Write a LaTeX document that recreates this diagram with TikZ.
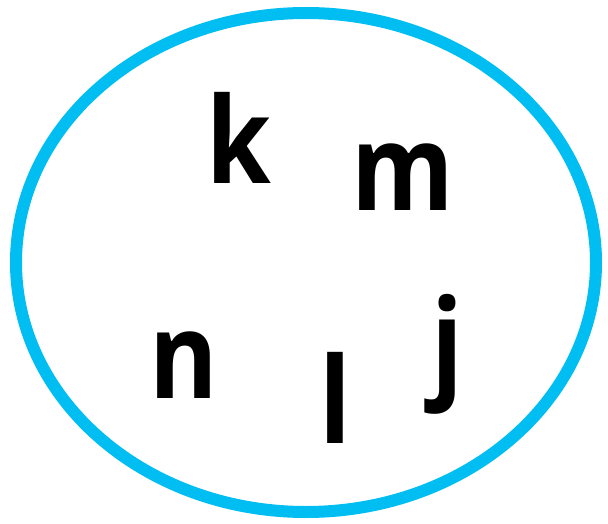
\documentclass[tikz,border=0pt]{standalone}
\usepackage{fontspec}
\newfontfamily\letterfont{Open Sans}
\definecolor{ringblue}{RGB}{0,190,242}
\begin{document}
\begin{tikzpicture}[x=1pt,y=-1pt,line join=round,line cap=round,
	letter/.style={font=\letterfont\bfseries\fontsize{120}{122}\selectfont,inner sep=0pt,anchor=base,xscale=0.87}]
			\useasboundingbox (0,0) rectangle (608,524);
			\draw[ringblue,line width=12pt] (306,262.5) ellipse [x radius=290, y radius=249.5];
			\foreach \lx/\ly/\ltr in {
				238.5/183/k,
				403/210/m,
				184/398/n,
				335.5/443/l,
				447/385/j
			}{
				\node[letter] (\ltr) at (\lx,\ly) {\ltr};
			}
		\end{tikzpicture}
\end{document}
